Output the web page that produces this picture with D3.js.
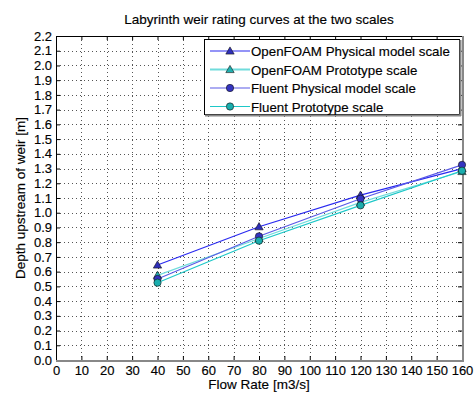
<!DOCTYPE html>
<html>
<head>
<meta charset="utf-8">
<script src="https://cdn.jsdelivr.net/npm/d3@7"></script>
<style>
  body { margin: 0; background: #fff; }
  text { font-family: "Liberation Sans", Arial, sans-serif; fill: #000; stroke: #000; stroke-width: 0.15px; }
</style>
</head>
<body>
<div id="chart"></div>
<script>
// data
const flow = [40, 80, 120, 160];
const of_physical = [0.645, 0.905, 1.12, 1.30];
const of_prototype = [0.575, 0.825, 1.07, 1.28];
const fl_physical = [0.55, 0.84, 1.095, 1.325];
const fl_prototype = [0.525, 0.81, 1.05, 1.285];
const x_ticks = d3.range(0, 161, 10);
const y_ticks = d3.range(0, 2.21, 0.1);

const series = [
  {name: "OpenFOAM Physical model scale", vals: of_physical, line: "#2a2af0", fill: "#2e2eb8", shape: "tri"},
  {name: "OpenFOAM Prototype scale", vals: of_prototype, line: "#70dcdc", fill: "#1fb0b0", shape: "tri"},
  {name: "Fluent Physical model scale", vals: fl_physical, line: "#5a5ae6", fill: "#3434c0", shape: "circ"},
  {name: "Fluent Prototype scale", vals: fl_prototype, line: "#1ec8c8", fill: "#1aadad", shape: "circ"}
];

const width = 476, height = 394;
const margin = {top: 36, right: 14, bottom: 34, left: 56};
const iw = width - margin.left - margin.right;
const ih = height - margin.top - margin.bottom;
const fs = "13.5px";
const tick_fs = "13px";

const svg = d3.select("#chart").append("svg")
  .attr("width", width)
  .attr("height", height);

const g = svg.append("g").attr("transform", `translate(${margin.left},${margin.top})`);

const x = d3.scaleLinear().domain([0, 160]).range([0, iw]);
const y = d3.scaleLinear().domain([0, 2.2]).range([ih, 0]);

// grid (dotted)
g.append("g").selectAll("line")
  .data(x_ticks.slice(1, -1))
  .enter().append("line")
    .attr("x1", d => Math.round(x(d)) + 0.5).attr("x2", d => Math.round(x(d)) + 0.5)
    .attr("y1", 0).attr("y2", ih)
    .attr("stroke", "#555").attr("stroke-dasharray", "1,3");
g.append("g").selectAll("line")
  .data(y_ticks.slice(1, -1))
  .enter().append("line")
    .attr("y1", d => Math.round(y(d)) + 0.5).attr("y2", d => Math.round(y(d)) + 0.5)
    .attr("x1", 0).attr("x2", iw)
    .attr("stroke", "#555").attr("stroke-dasharray", "1,3");

// axes with inner ticks on all four sides
const fmt_y = d3.format(".1f");
const ax_b = g.append("g").attr("transform", `translate(0,${ih})`)
  .call(d3.axisBottom(x).tickValues(x_ticks).tickSizeInner(-4).tickSizeOuter(0).tickPadding(6));
const ax_t = g.append("g")
  .call(d3.axisTop(x).tickValues(x_ticks).tickSizeInner(-4).tickSizeOuter(0).tickFormat(""));
const ax_l = g.append("g")
  .call(d3.axisLeft(y).tickValues(y_ticks).tickFormat(fmt_y).tickSizeInner(-4).tickSizeOuter(0).tickPadding(4));
const ax_r = g.append("g").attr("transform", `translate(${iw},0)`)
  .call(d3.axisRight(y).tickValues(y_ticks).tickSizeInner(-4).tickSizeOuter(0).tickFormat(""));

[ax_b, ax_t, ax_l, ax_r].forEach(a => {
  a.select(".domain").remove();
  a.selectAll("line").attr("stroke", "#000");
  a.selectAll("text").attr("fill", "#000").style("font-size", tick_fs)
    .style("font-family", '"Liberation Sans", Arial, sans-serif');
});

// frame
g.append("line").attr("x1", 0.5).attr("x2", 0.5).attr("y1", 0).attr("y2", ih).attr("stroke", "#000");
g.append("line").attr("x1", 0).attr("x2", iw).attr("y1", 0.5).attr("y2", 0.5).attr("stroke", "#000");
g.append("line").attr("x1", iw + 1).attr("x2", iw + 1).attr("y1", 0).attr("y2", ih + 2).attr("stroke", "#888").attr("stroke-width", 2);
g.append("line").attr("x1", 0).attr("x2", iw + 2).attr("y1", ih + 1).attr("y2", ih + 1).attr("stroke", "#888").attr("stroke-width", 2);

// lines
const line = d3.line().x((d, i) => x(flow[i])).y(d => y(d));
series.forEach(s => {
  g.append("path")
    .attr("d", line(s.vals))
    .attr("fill", "none")
    .attr("stroke", s.line)
    .attr("stroke-width", 1.2);
});

const tri = d3.symbol().type(d3.symbolTriangle).size(30);
const circ = d3.symbol().type(d3.symbolCircle).size(42);
function draw_marker(sel, s, cx, cy) {
  sel.append("path")
    .attr("d", s.shape == "tri" ? tri() : circ())
    .attr("transform", `translate(${cx},${cy + (s.shape == "tri" ? 0.7 : 0)})`)
    .attr("fill", s.fill)
    .attr("stroke", "#111")
    .attr("stroke-width", 0.6);
}
series.forEach(s => {
  s.vals.forEach((v, i) => draw_marker(g, s, x(flow[i]), y(v)));
});

// title and labels
svg.append("text")
  .attr("x", margin.left + iw / 2).attr("y", 24)
  .attr("text-anchor", "middle").style("font-size", fs)
  .text("Labyrinth weir rating curves at the two scales");
svg.append("text")
  .attr("x", margin.left + iw / 2).attr("y", 389)
  .attr("text-anchor", "middle").style("font-size", fs)
  .text("Flow Rate [m3/s]");
svg.append("text")
  .attr("transform", `translate(25,${margin.top + ih / 2}) rotate(-90)`)
  .attr("text-anchor", "middle").style("font-size", fs)
  .text("Depth upstream of weir [m]");

// legend
const lg = svg.append("g").attr("transform", "translate(204,39)");
lg.append("rect").attr("x", 0.5).attr("y", 0.5).attr("width", 255).attr("height", 75)
  .attr("fill", "#fff").attr("stroke", "#000");
lg.append("line").attr("x1", 256.5).attr("x2", 256.5).attr("y1", 1).attr("y2", 77).attr("stroke", "#888").attr("stroke-width", 2);
lg.append("line").attr("x1", 1).attr("x2", 257).attr("y1", 76.5).attr("y2", 76.5).attr("stroke", "#888").attr("stroke-width", 2);
series.forEach((s, i) => {
  const yy = 12 + i * 18.5;
  lg.append("line").attr("x1", 6).attr("x2", 46).attr("y1", yy).attr("y2", yy)
    .attr("stroke", s.line).attr("stroke-width", i == 1 ? 2 : 1.2);
  draw_marker(lg, s, 26, yy);
  lg.append("text").attr("x", 47).attr("y", yy + 5)
    .style("font-size", "13.3px").text(s.name);
});
</script>
</body>
</html>
